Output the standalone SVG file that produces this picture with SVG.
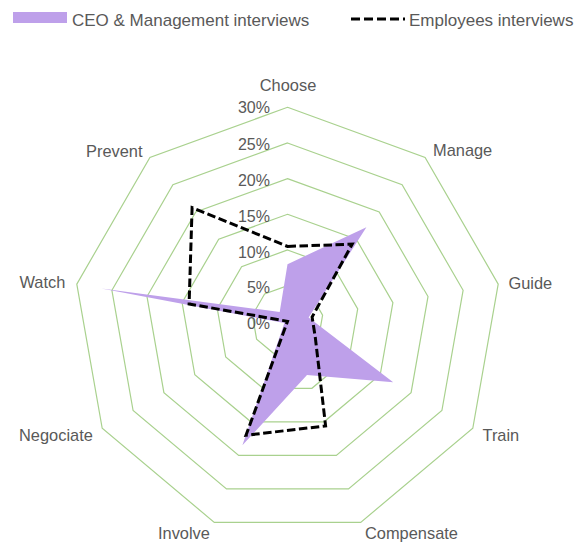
<svg xmlns="http://www.w3.org/2000/svg" width="581" height="542" viewBox="0 0 581 542">
<style>
text{font-family:"Liberation Sans",Arial,sans-serif;fill:#595959}
.ring{fill:none;stroke:#A9D18E;stroke-width:1.2;stroke-linejoin:miter}
.axis{font-size:16.4px}
.tick{font-size:16px;text-anchor:end}
.leg{font-size:17px}
.ceo{fill:#BEA0EA;stroke:none}
.emp{fill:none;stroke:#000;stroke-width:3;stroke-dasharray:8.5 3.5;stroke-linejoin:miter}
</style>
<rect width="581" height="542" fill="#fff"/>
<g id="legend">
<rect x="13" y="12" width="54" height="11" fill="#BEA0EA"/>
<text class="leg" x="72" y="26">CEO &amp; Management interviews</text>
<line x1="351" y1="19" x2="405" y2="19" stroke="#000" stroke-width="3" stroke-dasharray="9 4"/>
<text class="leg" x="409" y="26">Employees interviews</text>
</g>
<g id="grid">
<polygon class="ring" points="287.5,107.3 425.1,157.4 498.2,284.1 472.8,428.3 360.7,522.4 214.3,522.4 102.2,428.3 76.8,284.1 149.9,157.4"/>
<polygon class="ring" points="287.5,143 402.1,184.7 463.1,290.3 441.9,410.5 348.5,488.9 226.5,488.9 133.1,410.5 111.9,290.3 172.9,184.7"/>
<polygon class="ring" points="287.5,178.6 379.2,212 428,296.5 411.1,392.6 336.3,455.4 238.7,455.4 163.9,392.6 147,296.5 195.8,212"/>
<polygon class="ring" points="287.5,214.3 356.3,239.3 392.9,302.7 380.2,374.8 324.1,421.8 250.9,421.8 194.8,374.8 182.1,302.7 218.7,239.3"/>
<polygon class="ring" points="287.5,250 333.4,266.7 357.7,308.9 349.3,357 311.9,388.3 263.1,388.3 225.7,357 217.3,308.9 241.6,266.7"/>
<polygon class="ring" points="287.5,285.6 310.4,294 322.6,315.1 318.4,339.1 299.7,354.8 275.3,354.8 256.6,339.1 252.4,315.1 264.6,294"/>
</g>
<g id="tick-labels">
<text class="tick" x="270" y="113">30%</text>
<text class="tick" x="270" y="149.5">25%</text>
<text class="tick" x="270" y="185.5">20%</text>
<text class="tick" x="270" y="222">15%</text>
<text class="tick" x="270" y="257.5">10%</text>
<text class="tick" x="270" y="292.5">5%</text>
<text class="tick" x="270" y="329">0%</text>
</g>
<g id="series">
<polygon id="ceo-series" class="ceo" points="287.5,264.2 366.4,227.3 308.6,317.6 393.2,382.3 307,374.9 242.4,445.3 284.4,323.1 101.4,288.5 279.7,312"/>
<polygon id="employees-series" class="emp" points="287.5,246.4 352.2,244.2 312.1,317 315.3,337.4 325.6,425.9 246,435.3 287.5,321.3 189.1,304 192.1,207.6"/>
</g>
<g id="axis-labels">
<text id="choose" class="axis" x="288" y="91" text-anchor="middle">Choose</text>
<text id="manage" class="axis" x="433" y="156">Manage</text>
<text id="guide" class="axis" x="508.5" y="288.5">Guide</text>
<text id="train" class="axis" x="482.5" y="440.5">Train</text>
<text id="compensate" class="axis" x="365" y="538.5">Compensate</text>
<text id="involve" class="axis" x="158" y="538.5">Involve</text>
<text id="negociate" class="axis" x="19" y="440.5">Negociate</text>
<text id="watch" class="axis" x="19.5" y="288">Watch</text>
<text id="prevent" class="axis" x="86" y="156.5">Prevent</text>
</g>
</svg>
